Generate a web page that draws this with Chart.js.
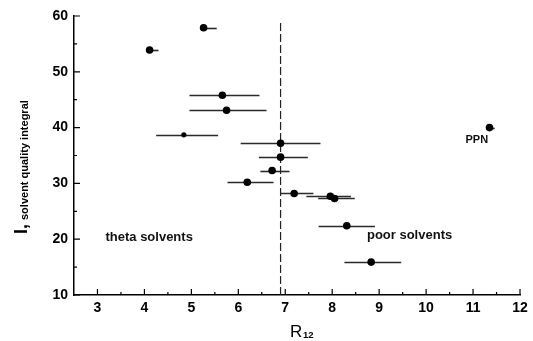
<!DOCTYPE html>
<html>
<head>
<meta charset="utf-8">
<script src="https://cdn.jsdelivr.net/npm/chart.js@4.4.1/dist/chart.umd.min.js"></script>
<style>
  html, body { margin: 0; padding: 0; background: #fff; }
  canvas { display: block; }
</style>
</head>
<body>
<canvas id="myChart" width="533" height="341"></canvas>
<script>
// R12 values, solvent quality integral and the horizontal error range of each solvent
const rValues = [5.26, 4.11, 5.66, 5.75, 4.84, 6.90, 6.90, 6.72, 6.19, 7.19, 7.96, 8.05, 8.31, 8.83, 11.35];
const iValues = [57.9, 53.9, 45.8, 43.1, 38.7, 37.2, 34.7, 32.3, 30.2, 28.2, 27.7, 27.3, 22.4, 15.9, 40.0];
const rLow    = [5.26, 4.11, 4.96, 4.96, 4.25, 6.05, 6.44, 6.47, 5.77, 6.90, 7.45, 7.70, 7.71, 8.26, 11.35];
const rHigh   = [5.54, 4.30, 6.45, 6.60, 5.57, 7.75, 7.48, 7.09, 6.75, 7.60, 8.40, 8.48, 8.91, 9.47, 11.46];

// theta boundary
const thetaR = 6.9;
const thetaTop = 59.3;

// tick labels
const xTicks = [3, 4, 5, 6, 7, 8, 9, 10, 11, 12];
const yTicks = [10, 20, 30, 40, 50, 60];

// text notes in the plot
const noteText = ['theta solvents', 'poor solvents', 'PPN'];
const noteR = [3.17, 8.74, 11.08];
const noteI = [20.4, 20.6, 37.8];

const FONT = '"Liberation Sans", Arial, Helvetica, sans-serif';

// horizontal error bars, drawn under the points
const errorBars = {
    id: 'errorBars',
    beforeDatasetsDraw(chart) {
        const {ctx, scales: {x, y}} = chart;
        ctx.save();
        ctx.strokeStyle = '#2a2a2a';
        ctx.lineWidth = 1.6;
        for (let i = 0; i < rValues.length; i++) {
            const py = Math.round(y.getPixelForValue(iValues[i])) + 0.5;
            ctx.beginPath();
            ctx.moveTo(x.getPixelForValue(rLow[i]), py);
            ctx.lineTo(x.getPixelForValue(rHigh[i]), py);
            ctx.stroke();
        }
        ctx.restore();
    }
};

// inward tick marks, notes and axis titles
const decor = {
    id: 'decor',
    afterDraw(chart) {
        const {ctx, chartArea: a, scales: {x, y}} = chart;
        ctx.save();
        ctx.strokeStyle = '#000';
        ctx.lineWidth = 1.2;
        ctx.beginPath();
        for (let v = 3; v <= 12; v += 0.5) {
            const px = x.getPixelForValue(v);
            const len = Number.isInteger(v) ? 6 : 3;
            ctx.moveTo(px, a.bottom);
            ctx.lineTo(px, a.bottom - len);
        }
        for (let v = 10; v <= 60; v += 5) {
            const py = y.getPixelForValue(v);
            const len = v % 10 === 0 ? 6 : 3;
            ctx.moveTo(a.left, py);
            ctx.lineTo(a.left + len, py);
        }
        ctx.stroke();

        // notes
        ctx.fillStyle = '#111';
        ctx.textBaseline = 'middle';
        noteText.forEach((t, i) => {
            ctx.font = (i === 2 ? 'bold 11px ' : 'bold 13px ') + FONT;
            ctx.textAlign = i === 2 ? 'center' : 'left';
            ctx.fillText(t, x.getPixelForValue(noteR[i]), y.getPixelForValue(noteI[i]));
        });

        // x title: R with subscript 12
        ctx.textBaseline = 'alphabetic';
        ctx.textAlign = 'left';
        ctx.fillStyle = '#000';
        ctx.font = '17px ' + FONT;
        ctx.fillText('R', 290, 337);
        ctx.font = 'bold 9.5px ' + FONT;
        ctx.fillText('12', 303, 338);

        // y title, rotated
        ctx.translate(27, 234);
        ctx.rotate(-Math.PI / 2);
        ctx.font = 'bold 18px ' + FONT;
        ctx.fillText('I,', 0, 0);
        const w = ctx.measureText('I,').width;
        ctx.font = 'bold 11px ' + FONT;
        ctx.fillText('solvent quality integral', w + 4, 1);
        ctx.restore();
    }
};

const tickFont = { family: FONT, size: 14, weight: 'bold' };

const ctx = document.getElementById('myChart').getContext('2d');
const myChart = new Chart(ctx, {
    type: 'scatter',
    data: {
        datasets: [{
            data: rValues.map((r, i) => ({ x: r, y: iValues[i] })),
            backgroundColor: '#000',
            borderColor: '#000',
            borderWidth: 0,
            pointRadius: c => c.dataIndex === 4 ? 2.6 : 3.8
        }, {
            type: 'line',
            data: [{ x: thetaR, y: 10 }, { x: thetaR, y: thetaTop }],
            borderColor: '#222',
            borderWidth: 1.2,
            borderDash: [8, 3],
            pointRadius: 0,
            fill: false
        }]
    },
    options: {
        responsive: false,
        animation: false,
        devicePixelRatio: 1,
        layout: { padding: { top: 16, right: 13, left: 0, bottom: 0 } },
        plugins: {
            legend: { display: false },
            tooltip: { enabled: false }
        },
        scales: {
            x: {
                type: 'linear',
                min: 2.5,
                max: 12,
                afterBuildTicks: s => { s.ticks = xTicks.map(v => ({ value: v })); },
                afterFit: s => { s.height = 46; },
                grid: { drawOnChartArea: false, drawTicks: false },
                border: { color: '#000', width: 1.5 },
                ticks: { font: tickFont, color: '#000', padding: 5 }
            },
            y: {
                type: 'linear',
                min: 10,
                max: 60,
                afterBuildTicks: s => { s.ticks = yTicks.map(v => ({ value: v })); },
                afterFit: s => { s.width = 74; },
                grid: { drawOnChartArea: false, drawTicks: false },
                border: { color: '#000', width: 1.5 },
                ticks: { font: tickFont, color: '#000', padding: 6 }
            }
        }
    },
    plugins: [errorBars, decor]
});
</script>
</body>
</html>
